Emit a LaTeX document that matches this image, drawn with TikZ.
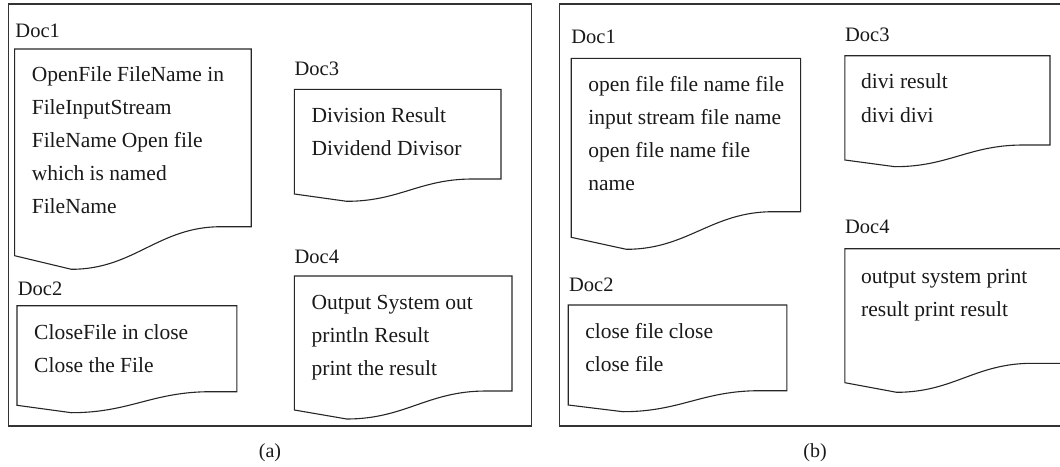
\documentclass[tikz,border=0pt]{standalone}
\usepackage{fontspec}
\setmainfont{Liberation Serif}

% Document outline: flat top, wavy bottom edge.
% #1 left, #2 top, #3 right, #4 right-bottom y, #5 left-bottom y,
% #6 x of lowest point, #7 y of lowest point, #8 x where the wave turns flat
\newcommand{\docpath}[8]{%
  \draw[docline] (#1,#2) -- (#3,#2) -- (#3,#4) -- (#8,#4)
    .. controls ({#8-0.42*(#8-#6)},#4) and ({#6+0.42*(#8-#6)},#7) .. (#6,#7)
    -- (#1,#5) -- cycle;}

\begin{document}
\begin{tikzpicture}[x=1pt,y=-1pt,
  frame/.style={draw=black!80,line width=1.2pt},
  docline/.style={draw=black!85,line width=1.1pt},
  lbl/.style={anchor=base west,inner sep=0pt,font=\fontsize{20.5}{24}\selectfont,text=black!90},
  txt/.style={anchor=base west,inner sep=0pt,font=\fontsize{21.5}{25}\selectfont,text=black!90},
  captext/.style={inner sep=0pt,font=\fontsize{20}{24}\selectfont,text=black!90}]
\useasboundingbox (0,0) rectangle (1060,466);

% ---------------- panel (a) ----------------
\draw[frame] (8.3,4) rectangle (531.7,426);

% Doc1
\node[lbl] (a1l) at (15.3,37) {Doc1};
\docpath{14.6}{49}{251.2}{226.7}{255.7}{71.4}{269.3}{221}
\node[txt] (a1t1) at (31.6,81.7) {OpenFile FileName in};
\node[txt] (a1t2) at (31.6,114.7) {FileInputStream};
\node[txt] (a1t3) at (31.6,147.7) {FileName Open file};
\node[txt] (a1t4) at (31.6,180.7) {which is named};
\node[txt] (a1t5) at (31.6,213.7) {FileName};

% Doc3
\node[lbl] (a3l) at (294.4,75.3) {Doc3};
\docpath{294.4}{89.3}{501}{179}{194}{346.7}{201.3}{472.5}
\node[txt] (a3t1) at (311.4,122.7) {Division Result};
\node[txt] (a3t2) at (311.4,155.3) {Dividend Divisor};

% Doc2
\node[lbl] (a2l) at (17.7,295.7) {Doc2};
\docpath{17}{305.7}{236.9}{391.7}{405.3}{71.4}{412.7}{210.7}
\node[txt] (a2t1) at (34,339.7) {CloseFile in close};
\node[txt] (a2t2) at (34,372.3) {Close the File};

% Doc4
\node[lbl] (a4l) at (294.4,263) {Doc4};
\docpath{294.4}{276}{512}{391}{410}{346.7}{419}{486}
\node[txt] (a4t1) at (311.4,309.3) {Output System out};
\node[txt] (a4t2) at (311.4,342) {println Result};
\node[txt] (a4t3) at (311.4,375.3) {print the result};

\node[captext] (capa) at (270,453) {(a)};

% ---------------- panel (b) ----------------
\draw[frame] (559.3,4) rectangle (1075,426);

% Doc1
\node[lbl] (b1l) at (571.2,43.7) {Doc1};
\docpath{571.2}{58.3}{800.6}{211.7}{237.3}{626.3}{249.3}{773}
\node[txt] (b1t1) at (588.1,91) {open file file name file};
\node[txt] (b1t2) at (588.1,124.3) {input stream file name};
\node[txt] (b1t3) at (588.1,157.6) {open file name file};
\node[txt] (b1t4) at (588.1,190.9) {name};

% Doc3
\node[lbl] (b3l) at (844.9,41.3) {Doc3};
\docpath{844.9}{55.7}{1050}{145}{160}{894.9}{166.7}{1023}
\node[txt] (b3t1) at (861,88) {divi result};
\node[txt] (b3t2) at (861,122) {divi divi};

% Doc2
\node[lbl] (b2l) at (568.9,291.3) {Doc2};
\docpath{568.2}{305}{786.8}{390.7}{405}{622.9}{411.7}{759.7}
\node[txt] (b2t1) at (585.1,338.7) {close file close};
\node[txt] (b2t2) at (585.1,371) {close file};

% Doc4
\node[lbl] (b4l) at (844.9,233.7) {Doc4};
\docpath{844.9}{248.7}{1070}{363.3}{382.7}{896.6}{392.3}{1032}
\node[txt] (b4t1) at (861,283) {output system print};
\node[txt] (b4t2) at (861,316.3) {result print result};

\node[captext] (capb) at (815,453) {(b)};
\end{tikzpicture}
\end{document}
